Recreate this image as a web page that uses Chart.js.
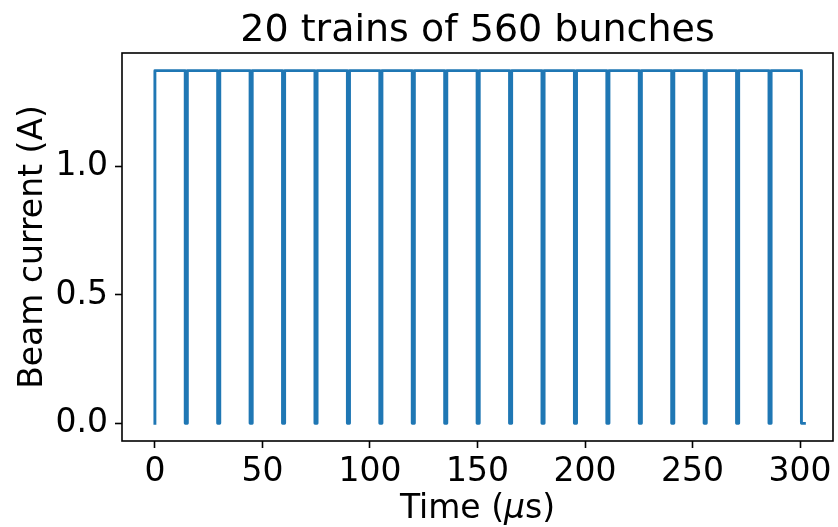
<!DOCTYPE html>
<html><head><meta charset="utf-8">
<script src="https://cdn.jsdelivr.net/npm/chart.js@4/dist/chart.umd.min.js"></script>
<style>html,body{margin:0;padding:0;background:#fff}canvas{display:block}</style>
</head><body>
<canvas id="c" width="838" height="527"></canvas>
<script>
const titleText = '20 trains of 560 bunches';
const xLabelParts = ['Time (', 'μ', 's)'];
const yLabel = 'Beam current (A)';
// train start / end times (µs)
const trainStarts = [0, 15.08, 30.16, 45.24, 60.32, 75.4, 90.48, 105.56, 120.64, 135.72,
                     150.8, 165.88, 180.96, 196.04, 211.12, 226.2, 241.28, 256.36, 271.44, 286.52];
const trainEnds = [14.1, 29.18, 44.26, 59.34, 74.42, 89.5, 104.58, 119.66, 134.74, 149.82,
                   164.9, 179.98, 195.06, 210.14, 225.22, 240.3, 255.38, 270.46, 285.54, 300.62];
const trainCurrent = 1.3736;   // A
const tailTime = 302;          // µs, last sample at zero current
const xTicks = [0, 50, 100, 150, 200, 250, 300];
const xTickLabels = ['0', '50', '100', '150', '200', '250', '300'];
const yTicks = [0, 0.5, 1.0];
const yTickLabels = ['0.0', '0.5', '1.0'];

const points = [];
trainStarts.forEach((s, i) => {
  points.push({x: s, y: 0});
  points.push({x: s, y: trainCurrent});
  points.push({x: trainEnds[i], y: trainCurrent});
  points.push({x: trainEnds[i], y: 0});
});
points.push({x: tailTime, y: 0});

const FONT = '"DejaVu Sans", "DejaVu Sans Condensed", sans-serif';

const decor = {
  id: 'decor',
  afterDraw(chart) {
    const ctx = chart.ctx, a = chart.chartArea;
    ctx.save();
    ctx.strokeStyle = '#000';
    ctx.lineWidth = 1.6;
    ctx.strokeRect(a.left, a.top, a.right - a.left, a.bottom - a.top);
    ctx.fillStyle = '#000';
    const cx = (a.left + a.right) / 2;
    ctx.font = '38px ' + FONT;
    ctx.textAlign = 'center';
    ctx.textBaseline = 'alphabetic';
    ctx.fillText(titleText, cx, 41);
    // x label with italic mu
    const fN = '33px ' + FONT, fI = 'italic 33px ' + FONT;
    const fonts = [fN, fI, fN];
    let total = 0;
    const widths = xLabelParts.map((t, i) => { ctx.font = fonts[i]; const w = ctx.measureText(t).width; total += w; return w; });
    let x = cx - total / 2;
    ctx.textAlign = 'left';
    xLabelParts.forEach((t, i) => { ctx.font = fonts[i]; ctx.fillText(t, x, 518); x += widths[i]; });
    ctx.restore();
  }
};

new Chart(document.getElementById('c'), {
  type: 'line',
  data: {
    datasets: [{
      data: points,
      borderColor: '#1f77b4',
      borderWidth: 2.9,
      pointRadius: 0,
      tension: 0,
      borderCapStyle: 'square',
      borderJoinStyle: 'round',
      fill: false
    }]
  },
  options: {
    responsive: false,
    animation: false,
    devicePixelRatio: 1,
    layout: {padding: {top: 53, right: 5, left: 0, bottom: 0}},
    plugins: {legend: {display: false}, title: {display: false}, tooltip: {enabled: false}},
    scales: {
      x: {
        type: 'linear',
        min: -15.3, max: 315.3,
        afterBuildTicks: s => { s.ticks = xTicks.map(v => ({value: v})); },
        afterFit: s => { s.height = 86; },
        grid: {display: true, drawOnChartArea: false, drawTicks: true, tickLength: 7, tickWidth: 1.6, tickColor: '#000'},
        border: {display: false},
        ticks: {
          color: '#000', padding: 5, maxRotation: 0, autoSkip: false,
          font: {family: FONT, size: 33},
          callback: (v) => { const i = xTicks.indexOf(v); return i >= 0 ? xTickLabels[i] : ''; }
        }
      },
      y: {
        type: 'linear',
        min: -0.0687, max: 1.4423,
        afterBuildTicks: s => { s.ticks = yTicks.map(v => ({value: v})); },
        afterFit: s => { s.width = 122; },
        grid: {display: true, drawOnChartArea: false, drawTicks: true, tickLength: 7, tickWidth: 1.6, tickColor: '#000'},
        border: {display: false},
        title: {display: true, text: yLabel, color: '#000', font: {family: FONT, size: 33}, padding: {top: 14, bottom: 0}},
        ticks: {
          color: '#000', padding: 7, autoSkip: false,
          font: {family: FONT, size: 33},
          callback: (v) => { const i = yTicks.indexOf(v); return i >= 0 ? yTickLabels[i] : ''; }
        }
      }
    }
  },
  plugins: [decor]
});
</script>
</body></html>
